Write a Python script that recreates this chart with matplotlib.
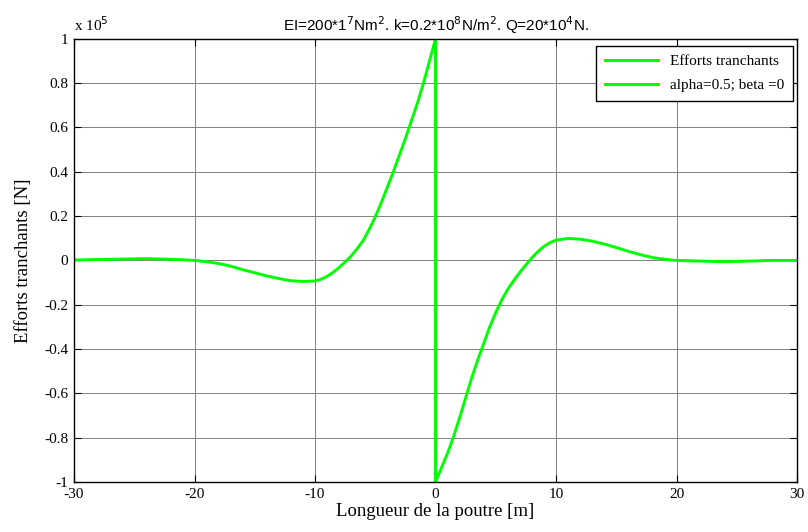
import numpy as np
import matplotlib
matplotlib.use("Agg")
import matplotlib.pyplot as plt
from matplotlib.lines import Line2D

# Valeurs (efforts tranchants, en unites de 1e5 N)
x_gauche = [-30, -28, -26, -24, -22, -21, -20, -19, -18, -17, -16, -15, -14, -13, -12,
            -11, -10, -9.5, -9, -8.5, -8, -7.5, -7, -6.5, -6, -5.5, -5, -4.5, -4,
            -3.5, -3, -2.5, -2, -1.5, -1, -0.5, 0]
v_gauche = [0.002, 0.004, 0.006, 0.008, 0.005, 0.003, 0.0, -0.006, -0.014, -0.026, -0.042,
            -0.056, -0.07, -0.082, -0.092, -0.095, -0.093, -0.085, -0.072, -0.054, -0.032,
            -0.007, 0.02, 0.053, 0.09, 0.14, 0.197, 0.26, 0.33, 0.40, 0.475, 0.55, 0.63,
            0.71, 0.8, 0.9, 1.0]

x_droite = [0, 0.5, 1, 1.5, 2, 2.5, 3, 3.5, 4, 4.5, 5, 5.5, 6, 6.5, 7, 7.5, 8, 8.5, 9,
            9.5, 10, 11, 12, 13, 14, 15, 16, 17, 18, 19, 20, 22, 24, 26, 28, 30]
v_droite = [-1.0, -0.935, -0.87, -0.795, -0.71, -0.62, -0.53, -0.45, -0.375, -0.3, -0.235,
            -0.178, -0.13, -0.09, -0.054, -0.02, 0.012, 0.04, 0.063, 0.08, 0.092, 0.099,
            0.096, 0.087, 0.074, 0.058, 0.041, 0.026, 0.013, 0.005, 0.0, -0.003, -0.006,
            -0.003, 0.0, 0.0]

xticks = [-30, -20, -10, 0, 10, 20, 30]
yticks = [-1, -0.8, -0.6, -0.4, -0.2, 0, 0.2, 0.4, 0.6, 0.8, 1]
ylabels = ['-1', '-0.8', '-0.6', '-0.4', '-0.2', '0', '0.2', '0.4', '0.6', '0.8', '1']

vert = '#00ff00'
serif = ['Liberation Serif', 'DejaVu Serif']

x = np.array(x_gauche + x_droite)
v = np.array(v_gauche + v_droite)

fig = plt.figure(figsize=(8.08, 5.32), dpi=100)
ax = fig.add_axes([0.0916, 0.094, 0.8948, 0.833])

ax.plot(x, v, color=vert, lw=2.1)

ax.set_xlim(-30, 30)
ax.set_ylim(-1, 1)
ax.set_xticks(xticks)
ax.set_xticklabels([str(t) for t in xticks], fontfamily=serif, fontsize=11)
ax.set_yticks(yticks)
ax.set_yticklabels(ylabels, fontfamily=serif, fontsize=11)
ax.tick_params(direction='in', top=True, right=True, length=5, width=0.8, pad=4)
ax.grid(True, color='0.5', lw=0.7)
for s in ax.spines.values():
    s.set_linewidth(1.0)

ax.set_xlabel('Longueur de la poutre [m]', fontfamily=serif, fontsize=13.5, labelpad=2)
ax.set_ylabel('Efforts tranchants [N]', fontfamily=serif, fontsize=13.5, labelpad=9)
ax.set_title('EI=200*1$^{7}$Nm$^{2}$. k=0.2*10$^{8}$N/m$^{2}$. Q=20*10$^{4}$N.',
             fontfamily='Liberation Sans', fontsize=11, pad=6)

ax.text(0.0, 1.012, 'x 10$^{5}$', transform=ax.transAxes, fontfamily=serif,
        fontsize=11, ha='left', va='bottom')

poignees = [Line2D([], [], color=vert, lw=2.1), Line2D([], [], color=vert, lw=2.1)]
leg = ax.legend(poignees, ['Efforts tranchants', 'alpha=0.5; beta =0'],
                loc='upper right', bbox_to_anchor=(0.9945, 0.984), borderaxespad=0,
                prop={'family': serif, 'size': 11}, fancybox=False, framealpha=1,
                edgecolor='black', handlelength=3.5, labelspacing=0.7, borderpad=0.55)
leg.get_frame().set_linewidth(1.0)

fig.savefig('out.png', dpi=100)
